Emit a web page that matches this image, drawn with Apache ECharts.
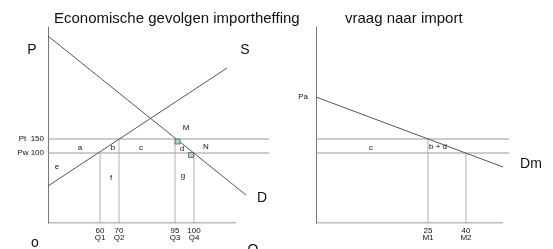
<!DOCTYPE html>
<html>
<head>
<meta charset="utf-8">
<script src="https://cdn.jsdelivr.net/npm/echarts@6/dist/echarts.min.js"></script>
<style>
  html, body { margin: 0; padding: 0; background: #fff; }
  #chart { width: 553px; height: 249px; }
</style>
</head>
<body>
<div id="chart"></div>
<script>
// schematic units: x = distance from the price axis, y = height above the quantity axis

// left panel: economic effects of an import tariff
const demandLine = [[0, 187], [198, 28]];
const supplyLine = [[0, 37], [179, 155]];
const priceLevels = [84, 70];            // Pt, Pw
const priceLabels = ['Pt  150', 'Pw 100'];
const priceLineEnd = 221;
const quantityPos = [52, 71, 127, 146];
const quantityTop = [70, 84, 84, 70];
const quantityLabels = ['60\nQ1', '70\nQ2', '95\nQ3', '100\nQ4'];
const leftAxisEnd = 188;
const cornerMarks = [[129.5, 81.5], [143, 68]];
const areaLetters = [
  ['a', 32, 75], ['b', 65, 75], ['c', 93, 75], ['d', 134, 74],
  ['e', 9, 56], ['f', 63, 45], ['g', 135, 47], ['M', 138, 95], ['N', 158, 76]
];
const leftBigLetters = [
  ['P', -16, 173], ['S', 197, 173], ['D', 214, 25], ['o', -13, -20], ['Q', 205, -27]
];

// right panel: import demand
const importDemand = [[0, 126], [187, 56]];
const importPriceLabel = ['Pa'];
const importPriceLevel = [126];
const importLineEnd = 193;
const importPos = [112, 150];
const importTop = [84, 70];
const importLabels = ['25\nM1', '40\nM2'];
const rightAxisEnd = 187;
const rightLetters = [['c', 55, 75], ['b + d', 122, 76]];
const rightBigLetters = [['Dm', 215, 59]];

const font = 'Liberation Sans, Arial, sans-serif';
const ink = '#111';

function seg(name, data, idx, color, z) {
  return {
    name: name, type: 'line', xAxisIndex: idx, yAxisIndex: idx,
    data: data, showSymbol: false, silent: true, animation: false,
    lineStyle: { color: color, width: 1 }, z: z || 2
  };
}

function letters(items, idx, size) {
  return {
    type: 'scatter', xAxisIndex: idx, yAxisIndex: idx, clip: false,
    symbolSize: 0, silent: true, animation: false,
    itemStyle: { opacity: 1 },
    data: items.map(t => ({ name: t[0], value: [t[1], t[2]] })),
    label: {
      show: true, position: 'inside', formatter: p => p.name,
      fontSize: size, color: ink, fontFamily: font
    },
    z: 5
  };
}

const series = [];
// left panel lines
priceLevels.forEach((y, i) => series.push(seg('price' + i, [[0, y], [priceLineEnd, y]], 0, '#9a9a9a')));
quantityPos.forEach((x, i) => series.push(seg('q' + i, [[x, 0], [x, quantityTop[i]]], 0, '#b0b0b0')));
series.push(seg('axisQ', [[0, 0], [leftAxisEnd, 0]], 0, '#777'));
series.push(seg('D', demandLine, 0, '#555', 3));
series.push(seg('S', supplyLine, 0, '#555', 3));
series.push({
  type: 'scatter', xAxisIndex: 0, yAxisIndex: 0, symbol: 'rect', symbolSize: 5,
  data: cornerMarks, silent: true, animation: false, z: 4,
  itemStyle: { color: '#a6d8d8', borderColor: '#555', borderWidth: 0.8, opacity: 1 }
});
series.push(letters(areaLetters, 0, 8));
series.push(letters(leftBigLetters, 0, 14));

// right panel lines
priceLevels.forEach((y, i) => series.push(seg('rprice' + i, [[0, y], [importLineEnd, y]], 1, '#9a9a9a')));
importPos.forEach((x, i) => series.push(seg('m' + i, [[x, 0], [x, importTop[i]]], 1, '#b0b0b0')));
series.push(seg('axisM', [[0, 0], [rightAxisEnd, 0]], 1, '#777'));
series.push(seg('Dm', importDemand, 1, '#555', 3));
series.push(letters(rightLetters, 1, 8));
series.push(letters(rightBigLetters, 1, 14));

function xAxisFor(idx, max, values, labels) {
  return {
    type: 'value', gridIndex: idx, min: 0, max: max,
    axisLine: { show: false }, axisTick: { show: false }, splitLine: { show: false },
    axisLabel: {
      customValues: values,
      formatter: v => labels[values.indexOf(v)] || '',
      fontSize: 8, lineHeight: 7, margin: 4, color: ink, fontFamily: font
    }
  };
}

function yAxisFor(idx, values, labels, margin) {
  return {
    type: 'value', gridIndex: idx, min: 0, max: 196,
    axisLine: { show: true, lineStyle: { color: '#777', width: 1 } },
    axisTick: { show: false }, splitLine: { show: false },
    axisLabel: {
      customValues: values,
      formatter: v => labels[values.indexOf(v)] || '',
      fontSize: 8, margin: margin, color: ink, fontFamily: font
    }
  };
}

const chart = echarts.init(document.getElementById('chart'));
chart.setOption({
  animation: false,
  backgroundColor: '#fff',
  grid: [
    { left: 48, top: 27, width: 222, height: 196 },
    { left: 316, top: 27, width: 193, height: 196 }
  ],
  xAxis: [
    xAxisFor(0, 222, quantityPos, quantityLabels),
    xAxisFor(1, 193, importPos, importLabels)
  ],
  yAxis: [
    yAxisFor(0, priceLevels, priceLabels, 4),
    yAxisFor(1, importPriceLevel, importPriceLabel, 8)
  ],
  graphic: [
    { type: 'text', left: 54, top: 11, silent: true,
      style: { text: 'Economische gevolgen importheffing', fontSize: 15, fill: '#111', fontFamily: font } },
    { type: 'text', left: 345, top: 11, silent: true,
      style: { text: 'vraag naar import', fontSize: 15, fill: '#111', fontFamily: font } }
  ],
  series: series
});
</script>
</body>
</html>
